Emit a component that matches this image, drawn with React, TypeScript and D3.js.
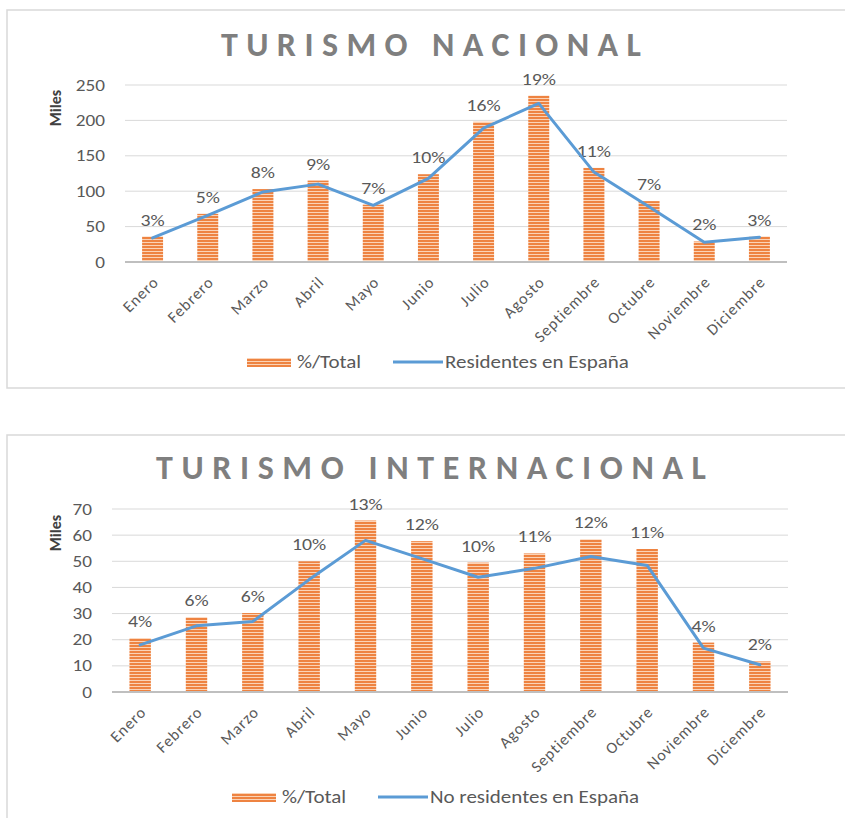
import * as d3 from "d3";
import React from "react";

// months on the x axis
const months = [
  "Enero", "Febrero", "Marzo", "Abril", "Mayo", "Junio",
  "Julio", "Agosto", "Septiembre", "Octubre", "Noviembre", "Diciembre",
];

// national tourism (miles)
const nacionalBars = [36, 68, 103, 115, 81, 124, 198, 235, 133, 86, 29, 36];
const nacionalLine = [34, 66, 99, 110, 80, 118, 189, 224, 127, 78, 28, 35];
const nacionalPct = ["3%", "5%", "8%", "9%", "7%", "10%", "16%", "19%", "11%", "7%", "2%", "3%"];
const nacionalTicks = [0, 50, 100, 150, 200, 250];

// international tourism (miles)
const interBars = [20.6, 28.6, 30.2, 50, 65.6, 57.7, 49.5, 53, 58.4, 54.7, 18.9, 11.7];
const interLine = [18, 25.3, 27, 43, 58, 51, 43.9, 47.3, 51.8, 48.4, 16.8, 10.4];
const interPct = ["4%", "6%", "6%", "10%", "13%", "12%", "10%", "11%", "12%", "11%", "4%", "2%"];
const interTicks = [0, 10, 20, 30, 40, 50, 60, 70];

const FONT = "Calibri, Carlito, 'Liberation Sans', Arial, sans-serif";
const TEXT = "#595959";
const SX = 1.2; // the source picture is a bit stretched sideways

type ChartProps = {
  id: string;
  title: string;
  titleWidth: number;
  titleY: number;
  boxY: number;
  boxH: number;
  left: number;
  right: number;
  top: number;
  bottom: number;
  ticks: number[];
  bars: number[];
  line: number[];
  pct: string[];
  lineName: string;
  legendX: number;
  legendY: number;
  milesY: number;
};

function Chart(p: ChartProps) {
  const x = d3.scaleBand().domain(months).range([p.left, p.right]).paddingInner(0.62).paddingOuter(0.31);
  const y = d3.scaleLinear().domain([0, p.ticks[p.ticks.length - 1]]).range([p.bottom, p.top]);
  const cx = (m: string) => (x(m) as number) + x.bandwidth() / 2;
  const path = d3
    .line<number>()
    .x((_, i) => cx(months[i]))
    .y((d) => y(d))(p.line) as string;
  const fill = `url(#stripes-${p.id})`;

  return (
    <g fontFamily={FONT}>
      <defs>
        <pattern id={`stripes-${p.id}`} width="4" height="3" patternUnits="userSpaceOnUse">
          <rect width="4" height="3" fill="#fbd3b6" />
          <rect width="4" height="2" fill="#ee8341" />
        </pattern>
      </defs>
      <rect x={7} y={p.boxY} width={850} height={p.boxH} fill="#fff" stroke="#d9d9d9" strokeWidth={1.5} />
      <text
        x={431}
        y={p.titleY}
        textAnchor="middle"
        fontSize={34}
        fontWeight="bold"
        fill="#7f7f7f"
        textLength={p.titleWidth}
        lengthAdjust="spacing"
      >
        {p.title}
      </text>

      {p.ticks.map((t) => (
        <g key={t}>
          {t > 0 && <line x1={p.left} x2={p.right} y1={y(t)} y2={y(t)} stroke="#d9d9d9" strokeWidth={1} />}
          <text
            transform={`translate(${p.left - 20},${y(t)}) scale(${SX},1)`}
            dy="0.35em"
            textAnchor="end"
            fontSize={16}
            fill={TEXT}
          >
            {t}
          </text>
        </g>
      ))}
      <text
        transform={`translate(61,${p.milesY}) rotate(-90)`}
        textAnchor="middle"
        fontSize={16}
        fontWeight="bold"
        fill="#404040"
      >
        Miles
      </text>

      {months.map((m, i) => (
        <g key={m}>
          <rect x={x(m)} y={y(p.bars[i])} width={x.bandwidth()} height={p.bottom - y(p.bars[i])} fill={fill} />
          <text
            transform={`translate(${cx(m)},${y(p.bars[i]) - 11}) scale(${SX},1)`}
            textAnchor="middle"
            fontSize={16.5}
            fill={TEXT}
          >
            {p.pct[i]}
          </text>
          <text
            transform={`translate(${cx(m) + 7},${p.bottom + 21}) rotate(-45)`}
            textAnchor="end"
            fontSize={16}
            letterSpacing={1}
            fill={TEXT}
          >
            {m}
          </text>
        </g>
      ))}
      <line x1={p.left} x2={p.right} y1={p.bottom} y2={p.bottom} stroke="#bfbfbf" strokeWidth={2} />
      <path d={path} fill="none" stroke="#5b9bd5" strokeWidth={3} strokeLinejoin="round" strokeLinecap="round" />

      <g transform={`translate(${p.legendX},${p.legendY})`}>
        <rect x={0} y={-4} width={44} height={9} fill={fill} />
        <text transform={`translate(50,0) scale(${SX},1)`} dy="0.35em" fontSize={17.5} fill={TEXT}>
          %/Total
        </text>
        <line x1={146} x2={196} y1={0} y2={0} stroke="#5b9bd5" strokeWidth={3} />
        <text transform={`translate(198,0) scale(${SX},1)`} dy="0.35em" fontSize={17.5} fill={TEXT}>
          {p.lineName}
        </text>
      </g>
    </g>
  );
}

export default function App() {
  return (
    <svg width={845} height={818} style={{ position: "absolute", left: 0, top: 0, background: "#fff" }}>
      <Chart
        id="nac"
        title="TURISMO NACIONAL"
        titleWidth={420}
        titleY={56}
        boxY={10}
        boxH={378}
        left={125}
        right={787}
        top={85}
        bottom={262}
        ticks={nacionalTicks}
        bars={nacionalBars}
        line={nacionalLine}
        pct={nacionalPct}
        lineName="Residentes en España"
        legendX={247}
        legendY={362}
        milesY={108}
      />
      <Chart
        id="int"
        title="TURISMO INTERNACIONAL"
        titleWidth={550}
        titleY={479}
        boxY={435}
        boxH={400}
        left={112}
        right={788}
        top={509}
        bottom={692}
        ticks={interTicks}
        bars={interBars}
        line={interLine}
        pct={interPct}
        lineName="No residentes en España"
        legendX={232}
        legendY={797}
        milesY={533}
      />
    </svg>
  );
}
